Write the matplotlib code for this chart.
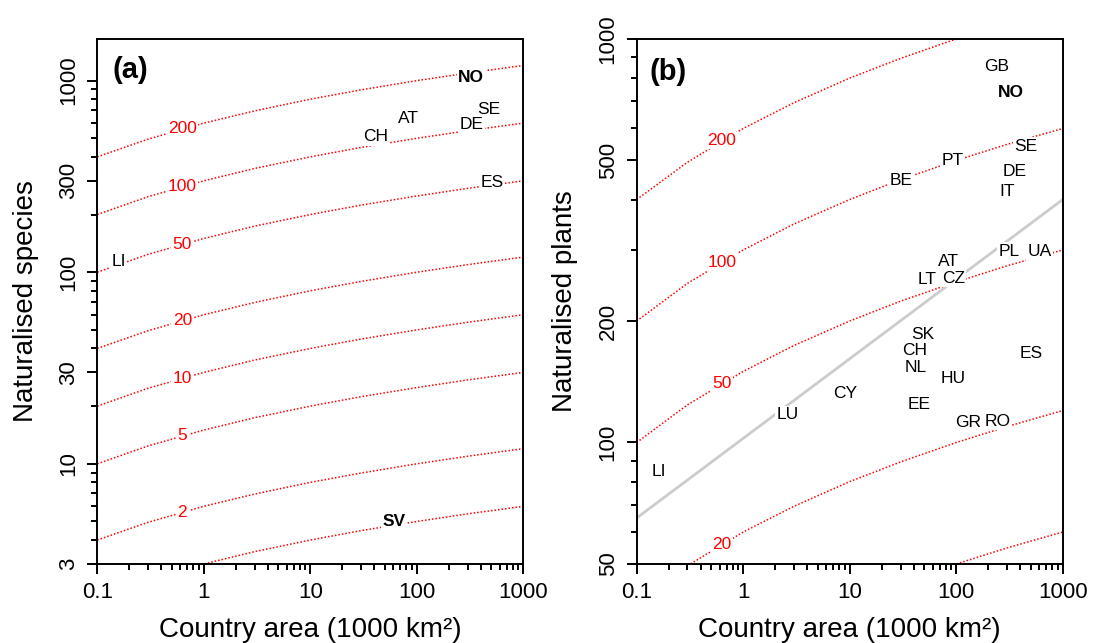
import matplotlib
matplotlib.use('Agg')
import matplotlib.pyplot as plt
from matplotlib.ticker import FixedLocator, FixedFormatter, NullFormatter

plt.rcParams['font.family'] = ['Liberation Sans', 'DejaVu Sans']

# area grid (1000 km2) where the isolines were read
area = [0.1, 0.3, 1, 3, 10, 30, 100, 300, 1000]

# isolines panel (a)
iso_levels_a = [1, 2, 5, 10, 20, 50, 100, 200]
iso_a = [
    [2, 2.48, 3, 3.48, 4, 4.48, 5, 5.48, 6],
    [4, 4.95, 6, 6.95, 8, 8.95, 10, 10.95, 12],
    [10, 12.4, 15, 17.4, 20, 22.4, 25, 27.4, 30],
    [20, 24.8, 30, 34.8, 40, 44.8, 50, 54.8, 60],
    [40, 49.5, 60, 69.5, 80, 89.5, 100, 109.5, 120],
    [100, 124, 150, 174, 200, 224, 250, 274, 300],
    [200, 248, 300, 348, 400, 448, 500, 548, 600],
    [400, 495, 600, 695, 800, 895, 1000, 1095, 1200],
]
# isolines panel (b)
iso_levels_b = [10, 20, 50, 100, 200]
iso_b = [
    [20, 24.8, 30, 34.8, 40, 44.8, 50, 54.8, 60],
    [40, 49.5, 60, 69.5, 80, 89.5, 100, 109.5, 120],
    [100, 124, 150, 174, 200, 224, 250, 274, 300],
    [200, 248, 300, 348, 400, 448, 500, 548, 600],
    [400, 495, 600, 695, 800, 895, 1000, 1095, 1200],
]
# where the isoline labels sit
lab_x = 0.63
lab_levels_a = [2, 5, 10, 20, 50, 100, 200]
lab_y_a = [5.6, 14, 28, 56, 140, 280, 560]
lab_levels_b = [20, 50, 100, 200]
lab_y_b = [56, 140, 280, 560]

# countries panel (a)
cc_a = ['NO', 'SE', 'DE', 'AT', 'CH', 'ES', 'LI', 'SV']
area_a = [324, 470, 330, 84, 41, 505, 0.158, 61]
spec_a = [1033, 705, 593, 632, 510, 294, 114, 5.0]

# countries panel (b)
cc_b = ['GB', 'NO', 'SE', 'PT', 'BE', 'DE', 'IT', 'PL', 'UA', 'AT', 'LT', 'CZ',
        'SK', 'CH', 'NL', 'HU', 'ES', 'CY', 'EE', 'LU', 'GR', 'RO', 'LI']
area_b = [242, 323, 453, 92, 30.5, 357, 301, 312, 604, 84, 53, 94,
          48.7, 40.6, 41.6, 93, 505, 9.1, 44.7, 2.6, 128, 245, 0.16]
plants_b = [855, 735, 542, 500, 446, 469, 419, 298, 297, 281, 254, 255,
            185, 169, 153, 144, 166, 132, 124, 117, 112, 113, 84.8]
bold_cc = ['NO', 'SV']

# fitted line panel (b)
trend_x = [0.1, 1000]
trend_y = [65, 400]

xticks = [0.1, 1, 10, 100, 1000]
xminor = [m * d for d in [0.1, 1, 10, 100] for m in range(2, 10)]

fig = plt.figure(figsize=(10.93, 6.43), dpi=100)
ax1 = fig.add_axes([0.089, 0.1229, 0.3898, 0.8165])
ax2 = fig.add_axes([0.5825, 0.1229, 0.3898, 0.8165])

red = '#ff0000'
box = dict(facecolor='white', edgecolor='none', pad=1)


def style(ax, ymaj, yminor, ylabel):
    ax.set_xscale('log')
    ax.set_yscale('log')
    ax.xaxis.set_major_locator(FixedLocator(xticks))
    ax.xaxis.set_major_formatter(FixedFormatter(['0.1', '1', '10', '100', '1000']))
    ax.xaxis.set_minor_locator(FixedLocator(xminor))
    ax.xaxis.set_minor_formatter(NullFormatter())
    ax.yaxis.set_major_locator(FixedLocator(ymaj))
    ax.yaxis.set_major_formatter(FixedFormatter([str(v) for v in ymaj]))
    ax.yaxis.set_minor_locator(FixedLocator(yminor))
    ax.yaxis.set_minor_formatter(NullFormatter())
    ax.tick_params(which='major', length=7, width=1.4, labelsize=16, pad=6)
    ax.tick_params(which='minor', length=4.5, width=1.4)
    for lbl in ax.get_yticklabels():
        lbl.set_rotation(90)
        lbl.set_va('center')
    for s in ax.spines.values():
        s.set_linewidth(1.4)
    ax.set_xlabel('Country area (1000 km²)', fontsize=20, labelpad=10)
    ax.set_ylabel(ylabel, fontsize=20, labelpad=14)


# panel (a)
for vals in iso_a:
    ax1.plot(area, vals, color=red, lw=1.1, dashes=(1, 1.3))
for lv, ly in zip(lab_levels_a, lab_y_a):
    ax1.text(lab_x, ly, str(lv), color=red, fontsize=12.5, ha='center', va='center', bbox=box)
for c, x, y in zip(cc_a, area_a, spec_a):
    ax1.text(x, y, c, fontsize=12.5, ha='center', va='center', bbox=box,
             fontweight='bold' if c in bold_cc else 'normal')
ax1.set_xlim(0.1, 1000)
ax1.set_ylim(3, 1650)
style(ax1, [3, 10, 30, 100, 300, 1000],
      [4, 5, 6, 7, 8, 9, 20, 40, 50, 60, 70, 80, 90, 200, 400, 500, 600, 700, 800, 900],
      'Naturalised species')
ax1.text(0.036, 0.941, '(a)', transform=ax1.transAxes, fontsize=21,
         fontweight='bold', ha='left', va='center')

# panel (b)
ax2.plot(trend_x, trend_y, color='#cccccc', lw=2)
for vals in iso_b:
    ax2.plot(area, vals, color=red, lw=1.1, dashes=(1, 1.3))
for lv, ly in zip(lab_levels_b, lab_y_b):
    ax2.text(lab_x, ly, str(lv), color=red, fontsize=12.5, ha='center', va='center', bbox=box)
for c, x, y in zip(cc_b, area_b, plants_b):
    ax2.text(x, y, c, fontsize=12.5, ha='center', va='center', bbox=box,
             fontweight='bold' if c in bold_cc else 'normal')
ax2.set_xlim(0.1, 1000)
ax2.set_ylim(50, 1000)
style(ax2, [50, 100, 200, 500, 1000],
      [60, 70, 80, 90, 300, 400, 600, 700, 800, 900],
      'Naturalised plants')
ax2.text(0.031, 0.938, '(b)', transform=ax2.transAxes, fontsize=21,
         fontweight='bold', ha='left', va='center')

fig.savefig('out.png', dpi=100)
